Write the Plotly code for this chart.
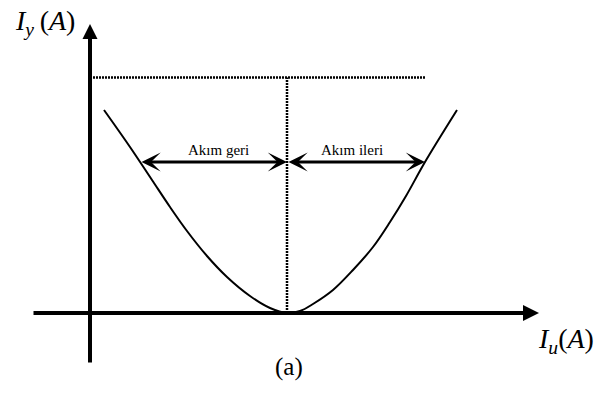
import plotly.graph_objects as go

# V-curve of excitation current I_u versus armature current I_y (arbitrary units)
curve_iu = [14, 40, 62, 80, 97, 117, 137, 160, 180, 197,
            210, 223, 243, 263, 283, 300, 316, 335, 367]
curve_iy = [203, 166, 133, 106, 82, 57, 36, 17, 5, 0,
            2, 9, 23, 43, 66, 91, 117, 151, 203]

# reference levels
iu_min = 197          # excitation at minimum armature current
iy_level = 235.5      # dotted upper level
iy_arrows = 151       # height of the "geri / ileri" arrows
iu_left = 50          # left end of the "Akım geri" arrow
iu_right = 335        # right end of the "Akım ileri" arrow / dotted level end

# axis extents
x_axis_span = [-58, 449]
y_axis_span = [-51, 289]

labels = ["Akım geri", "Akım ileri"]
label_x = [128, 262]
label_y = 163

FONT = "Liberation Serif"

fig = go.Figure()

# dotted guide lines
dotted = dict(color="black", width=2.5, dash="2px,1px")
fig.add_trace(go.Scatter(x=[0, iu_right], y=[iy_level, iy_level], mode="lines",
                         line=dotted, hoverinfo="skip"))
fig.add_trace(go.Scatter(x=[iu_min, iu_min], y=[0, iy_level], mode="lines",
                         line=dotted, hoverinfo="skip"))

# the V-curve
fig.add_trace(go.Scatter(x=curve_iu, y=curve_iy, mode="lines",
                         line=dict(color="black", width=2, shape="spline", smoothing=1),
                         hoverinfo="skip"))

annotations = []

def arrow(x_tip, y_tip, x_tail, y_tail, width, size, head, both=False):
    return dict(x=x_tip, y=y_tip, ax=x_tail, ay=y_tail, xref="x", yref="y",
                axref="x", ayref="y", text="", showarrow=True,
                arrowcolor="black", arrowwidth=width, arrowsize=size,
                arrowhead=head, startarrowhead=head, startarrowsize=size,
                arrowside="end+start" if both else "end",
                standoff=0, startstandoff=0)

# axes with arrowheads
annotations.append(arrow(x_axis_span[1], 0, x_axis_span[0], 0, 4, 0.8, 2))
annotations.append(arrow(0, y_axis_span[1], 0, y_axis_span[0], 4, 0.75, 2))

# double-headed arrows
annotations.append(arrow(iu_min, iy_arrows, iu_left, iy_arrows, 3.2, 1.0, 3, both=True))
annotations.append(arrow(iu_right, iy_arrows, iu_min, iy_arrows, 3.2, 1.0, 3, both=True))

for t, lx in zip(labels, label_x):
    annotations.append(dict(x=lx, y=label_y, xref="x", yref="y", text=t,
                            showarrow=False, font=dict(family=FONT, size=15, color="black")))

# axis titles and caption
annotations.append(dict(x=-77, y=291, xref="x", yref="y", xanchor="left", yanchor="middle",
                        text="<i>I</i><sub><i>y</i></sub>&#8201;(<i>A</i>)", showarrow=False,
                        font=dict(family=FONT, size=28, color="black")))
annotations.append(dict(x=446, y=-27, xref="x", yref="y", xanchor="left", yanchor="middle",
                        text="<i>I</i><sub><i>u</i></sub>(<i>A</i>)", showarrow=False,
                        font=dict(family=FONT, size=28, color="black")))
annotations.append(dict(x=199, y=-54, xref="x", yref="y", xanchor="center", yanchor="middle",
                        text="(a)", showarrow=False,
                        font=dict(family=FONT, size=25, color="black")))

fig.update_layout(
    width=607, height=397,
    margin=dict(l=0, r=0, t=0, b=0),
    paper_bgcolor="white", plot_bgcolor="white",
    showlegend=False,
    xaxis=dict(range=[-90, 517], visible=False, fixedrange=True),
    yaxis=dict(range=[-84, 313], visible=False, fixedrange=True),
    annotations=annotations,
)

fig.write_html("out.html")
